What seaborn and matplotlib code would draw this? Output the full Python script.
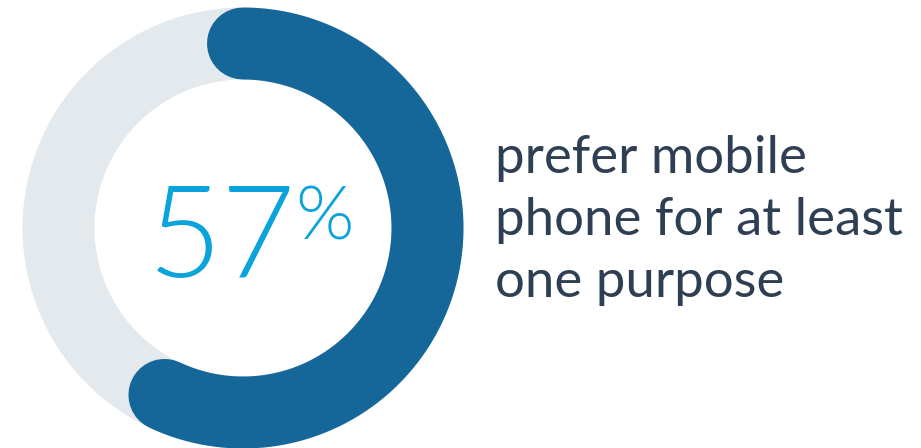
import numpy as np
import pandas as pd
import seaborn as sns
import matplotlib
matplotlib.use("Agg")
import matplotlib.pyplot as plt

# Share of respondents and the caption next to the ring
share_pct = [57]
value_text = ["57", "%"]
caption_lines = ["prefer mobile", "phone for at least", "one purpose"]

RING_BLUE = "#156799"
RING_GREY = "#e3e9ec"
VALUE_BLUE = "#0aa3dc"
CAPTION = "#2f3f53"

sns.set_theme(style="white")
plt.rcParams["font.family"] = ["Lato", "DejaVu Sans"]

W, H, DPI = 921, 448, 100
fig = plt.figure(figsize=(W / DPI, H / DPI), dpi=DPI)
ax = fig.add_axes([0, 0, 1, 1])
ax.set_xlim(0, W)
ax.set_ylim(H, 0)
ax.set_aspect("equal")
ax.axis("off")

cx, cy, r_mid = 243, 228, 184.5
ring_pt = 72 * 72 / DPI  # ring thickness in points


def arc_frame(frac, n=400):
    # angle measured clockwise from 12 o'clock
    t = np.linspace(0, 2 * np.pi * frac, n)
    return pd.DataFrame({"x": cx + r_mid * np.sin(t), "y": cy - r_mid * np.cos(t)})


# full background track
sns.lineplot(data=arc_frame(1.0), x="x", y="y", sort=False, estimator=None,
             color=RING_GREY, lw=ring_pt, solid_capstyle="butt", ax=ax)
# value arc with rounded ends
sns.lineplot(data=arc_frame(share_pct[0] / 100), x="x", y="y", sort=False,
             estimator=None, color=RING_BLUE, lw=ring_pt,
             solid_capstyle="round", ax=ax)

num = ax.text(148, 277, value_text[0], fontsize=92, fontweight=300,
              color=VALUE_BLUE, ha="left", va="baseline")
# put the percent sign right after the number, top-aligned with the digits
fig.canvas.draw()
bb = num.get_window_extent(renderer=fig.canvas.get_renderer())
x_end = ax.transData.inverted().transform((bb.x1, bb.y0))[0]
ax.text(x_end - 1, 239, value_text[1], fontsize=54, fontweight=300,
        color=VALUE_BLUE, ha="left", va="baseline")

for i, line in enumerate(caption_lines):
    ax.text(495, 173 + 62 * i, line, fontsize=38, color=CAPTION,
            ha="left", va="baseline")

fig.savefig("out.png", dpi=DPI)
